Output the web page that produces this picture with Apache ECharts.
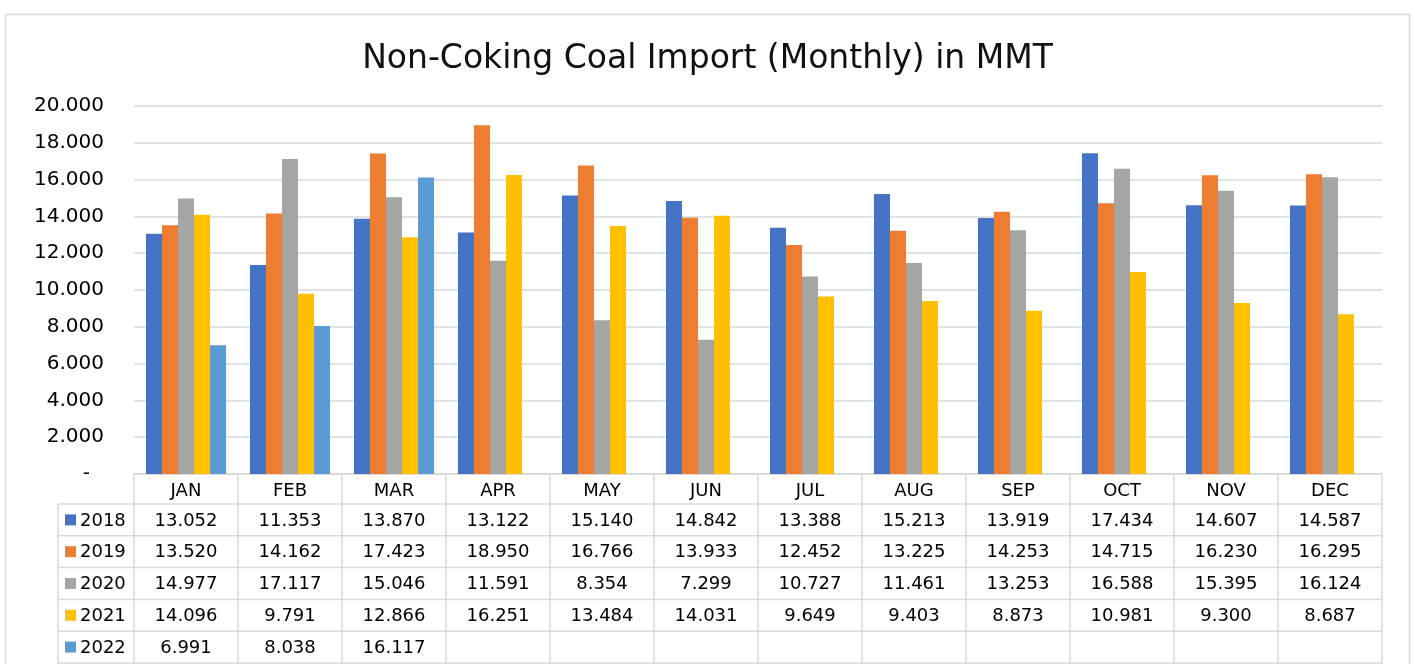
<!DOCTYPE html>
<html>
<head>
<meta charset="utf-8">
<script src="https://cdn.jsdelivr.net/npm/echarts@6/dist/echarts.min.js"></script>
<style>
    html,body{margin:0;padding:0;background:#fff;}
    #chart{width:1415px;height:664px;}
</style>
</head>
<body>
<div id="chart"></div>
<script>
// 月份
var months = ['JAN','FEB','MAR','APR','MAY','JUN','JUL','AUG','SEP','OCT','NOV','DEC'];
var years = ['2018','2019','2020','2021','2022'];
var data2018 = [13.052,11.353,13.870,13.122,15.140,14.842,13.388,15.213,13.919,17.434,14.607,14.587];
var data2019 = [13.520,14.162,17.423,18.950,16.766,13.933,12.452,13.225,14.253,14.715,16.230,16.295];
var data2020 = [14.977,17.117,15.046,11.591,8.354,7.299,10.727,11.461,13.253,16.588,15.395,16.124];
var data2021 = [14.096,9.791,12.866,16.251,13.484,14.031,9.649,9.403,8.873,10.981,9.300,8.687];
var data2022 = [6.991,8.038,16.117,null,null,null,null,null,null,null,null,null];
var colors = ['#4472C4','#ED7D31','#A5A5A5','#FFC000','#5B9BD5'];

var font = 'DejaVu Sans, Verdana, sans-serif';
var lineColor = '#d9d9d9';
var allData = [data2018,data2019,data2020,data2021,data2022];

var myChart = echarts.init(document.getElementById('chart'));

var seriesData = [];
years.forEach((y,i)=>{
    seriesData.push({
        name:y,
        type:'bar',
        data:allData[i],
        barGap:'0%',
        barCategoryGap:'23%',
        itemStyle:{color:colors[i]}
    })
})

var option = {
    animation:false,
    textStyle:{fontFamily:font},
    title:{
        text:'Non-Coking Coal Import (Monthly) in MMT',
        left:'center',
        top:38,
        textStyle:{fontSize:33,fontWeight:'normal',color:'#111',fontFamily:font}
    },
    grid:{
        left:134,
        right:33,
        top:106,
        bottom:190,
        containLabel:false
    },
    xAxis:{
        type:'category',
        data:months,
        axisLine:{lineStyle:{color:lineColor,width:1.5}},
        axisTick:{show:true,length:200,lineStyle:{color:lineColor,width:1.5}},
        axisLabel:{fontSize:18,color:'#000',margin:8,fontFamily:font}
    },
    yAxis:{
        type:'value',
        min:0,
        max:20,
        interval:2,
        axisLine:{show:false},
        axisTick:{show:false},
        splitLine:{lineStyle:{color:lineColor,width:1.5}},
        axisLabel:{
            fontSize:20,
            color:'#000',
            margin:30,
            fontFamily:font,
            formatter:function(v){
                return v===0 ? '{z|-}' : v.toFixed(3)
            },
            rich:{z:{fontSize:20,padding:[0,14,0,0],color:'#000'}}
        }
    },
    series:seriesData
};
myChart.setOption(option);

// 数据表 (画在坐标轴下方)
function drawTable(){
    let g = [];
    let yBase = myChart.convertToPixel({yAxisIndex:0},0);
    let xFirst = myChart.convertToPixel({xAxisIndex:0},0);
    let xSecond = myChart.convertToPixel({xAxisIndex:0},1);
    let cellW = xSecond-xFirst;
    let left = xFirst-cellW/2;
    let right = left+cellW*months.length;
    let headH = 30;
    let rowH = 31.8;
    let legendLeft = 58;

    // 外框
    g.push({
        type:'rect',
        shape:{x:5.5,y:14.5,width:1404,height:700},
        style:{fill:'none',stroke:lineColor,lineWidth:1.5},
        silent:true,z:-10
    });
    // 横线
    for(let i=0;i<=years.length;i++){
        let y = yBase+headH+i*rowH;
        g.push({
            type:'line',
            shape:{x1:legendLeft,y1:y,x2:right,y2:y},
            style:{stroke:lineColor,lineWidth:1.5},
            silent:true
        });
    }
    // 左侧竖线
    g.push({
        type:'line',
        shape:{x1:legendLeft,y1:yBase+headH,x2:legendLeft,y2:700},
        style:{stroke:lineColor,lineWidth:1.5},
        silent:true
    });
    years.forEach((year,i)=>{
        let cy = yBase+headH+i*rowH+rowH/2;
        g.push({
            type:'rect',
            shape:{x:65,y:cy-5.5,width:11,height:11},
            style:{fill:colors[i]},
            silent:true
        });
        g.push({
            type:'text',
            style:{text:year,x:80,y:cy+1,textAlign:'left',textVerticalAlign:'middle',font:'18px '+font,fill:'#000'},
            silent:true
        });
        allData[i].forEach((v,j)=>{
            if(v===null) return;
            let cx = myChart.convertToPixel({xAxisIndex:0},j);
            g.push({
                type:'text',
                style:{text:v.toFixed(3),x:cx,y:cy+1,textAlign:'center',textVerticalAlign:'middle',font:'18px '+font,fill:'#000'},
                silent:true
            });
        })
    })
    myChart.setOption({graphic:{elements:g}});
}
drawTable();
</script>
</body>
</html>
